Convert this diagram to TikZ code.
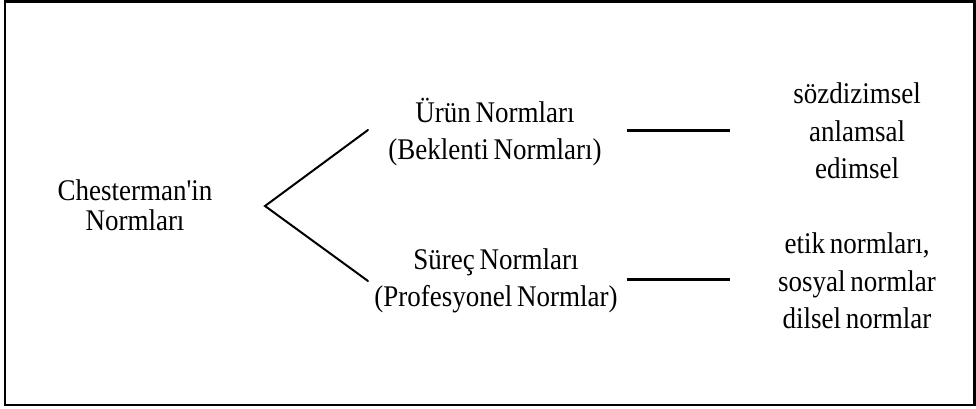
\documentclass[tikz,border=0pt]{standalone}
\usepackage{fontspec}
\setmainfont{Liberation Serif}[FakeStretch=0.9, Ligatures=TeXOff, WordSpace=0.7]
\begin{document}
\begin{tikzpicture}[x=1pt,y=-1pt,
  label/.style={inner sep=0pt, align=center, font=\fontsize{30}{37.5}\selectfont},
  rootlabel/.style={inner sep=0pt, align=center, font=\fontsize{30}{30}\selectfont},
  branch/.style={line width=2pt, line cap=round},
  link/.style={line width=3pt}]
  % page and frame
  \useasboundingbox[fill=white] (0,0) rectangle (976,409);
  \draw[line width=2.5pt] (5,1.5) rectangle (974.5,405);

  % root
  \node[rootlabel] (root) at (135,205) {Chesterman'in\\Normları};
  \coordinate (fork) at (265,206);

  % second level
  \node[label] (urun)  at (495,132) {Ürün Normları\\(Beklenti Normları)};
  \node[label] (surec) at (496,281) {Süreç Normları\\(Profesyonel Normlar)};

  % third level
  \node[label] (urunlist)  at (857,131) {sözdizimsel\\anlamsal\\edimsel};
  \node[label] (sureclist) at (857,281) {etik normları,\\sosyal normlar\\dilsel normlar};

  % connectors
  \coordinate (urunin)  at (368,130);
  \coordinate (surecin) at (368,281);
  \draw[branch] (urunin) -- (fork) -- (surecin);
  \draw[link] (627,130) -- (730,130);
  \draw[link] (627,279) -- (730,279);
\end{tikzpicture}
\end{document}
